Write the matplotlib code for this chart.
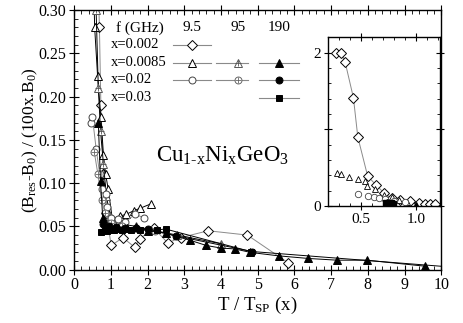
import matplotlib
matplotlib.use('Agg')
import matplotlib.pyplot as plt
from matplotlib.ticker import MultipleLocator, FormatStrFormatter

plt.rcParams['font.family'] = ['Liberation Serif', 'DejaVu Serif']
plt.rcParams['mathtext.fontset'] = 'custom'
plt.rcParams['mathtext.rm'] = 'Liberation Serif'
plt.rcParams['mathtext.it'] = 'Liberation Serif:italic'
plt.rcParams['font.size'] = 10

# ---- main panel data: T/Tsp vs (Bres-B0)/(100x.B0) ----
# x = 0.002, 9.5 GHz (open diamonds)
t_002 = [0.58, 0.69, 0.73, 0.80, 0.88, 1.01, 1.33, 1.65, 1.80, 2.17, 2.55, 2.90, 3.65, 4.72, 5.83]
b_002 = [0.45, 0.28, 0.19, 0.11, 0.065, 0.028, 0.037, 0.026, 0.036, 0.048, 0.031, 0.037, 0.045, 0.040, 0.008]
# x = 0.0085, 9.5 GHz (open triangles)
t_0085a = [0.52, 0.56, 0.64, 0.73, 0.80, 0.86, 0.93, 1.04, 1.25, 1.42, 1.62, 1.80, 2.09]
b_0085a = [0.36, 0.28, 0.224, 0.176, 0.133, 0.11, 0.093, 0.059, 0.062, 0.064, 0.068, 0.071, 0.076]
# x = 0.0085, 95 GHz (crossed triangles)
t_0085b = [0.60, 0.66, 0.72, 0.80, 0.88, 0.98, 1.15, 1.40, 1.70, 2.10, 2.80, 4.00]
b_0085b = [0.30, 0.21, 0.16, 0.122, 0.085, 0.062, 0.055, 0.052, 0.050, 0.046, 0.040, 0.030]
# x = 0.0085, 190 GHz (filled triangles)
t_0085c = [0.66, 0.72, 0.78, 0.85, 1.00, 1.20, 1.45, 1.70, 2.00, 2.50, 3.16, 3.60, 4.00, 4.38,
           4.80, 5.57, 6.38, 7.16, 7.97, 9.57]
b_0085c = [0.17, 0.102, 0.060, 0.050, 0.047, 0.048, 0.048, 0.049, 0.045, 0.042, 0.034, 0.028, 0.025,
           0.024, 0.020, 0.016, 0.013, 0.011, 0.011, 0.004]
# x = 0.02, 9.5 GHz (open circles)
t_02a = [0.45, 0.50, 0.60, 0.70, 0.77, 0.86, 0.90, 1.00, 1.20, 1.40, 1.65, 1.91]
b_02a = [0.17, 0.176, 0.14, 0.11, 0.093, 0.087, 0.072, 0.060, 0.058, 0.055, 0.064, 0.060]
# x = 0.02, 95 GHz (crossed circles)
t_02b = [0.55, 0.65, 0.75, 0.85, 1.00, 1.30, 1.70, 2.20]
b_02b = [0.136, 0.11, 0.08, 0.065, 0.054, 0.050, 0.048, 0.045]
# x = 0.02, 190 GHz (filled circles)
t_02c = [0.78, 0.95, 1.15, 1.40, 1.70, 2.00, 2.78, 4.85, 10.6]
b_02c = [0.053, 0.050, 0.049, 0.048, 0.048, 0.047, 0.039, 0.021, 0.002]
# x = 0.03, 190 GHz (filled squares)
t_03 = [0.72, 0.90, 1.10, 1.30, 1.55, 1.80, 2.26, 2.49, 4.81]
b_03 = [0.044, 0.045, 0.046, 0.046, 0.046, 0.046, 0.046, 0.047, 0.021]

# ---- inset data ----
ti_002 = [0.27, 0.32, 0.355, 0.43, 0.47, 0.56, 0.64, 0.71, 0.78, 0.86, 0.95, 1.03, 1.08, 1.13, 1.18]
bi_002 = [1.99, 2.00, 1.87, 1.41, 0.90, 0.39, 0.27, 0.17, 0.10, 0.08, 0.06, 0.04, 0.03, 0.03, 0.03]
ti_0085 = [0.28, 0.32, 0.39, 0.47, 0.54, 0.55, 0.63, 0.71, 0.78, 0.85, 0.92]
bi_0085 = [0.43, 0.42, 0.38, 0.35, 0.33, 0.26, 0.22, 0.15, 0.12, 0.08, 0.05]
ti_02 = [0.47, 0.56, 0.62, 0.66, 0.72, 0.80, 0.90]
bi_02 = [0.16, 0.13, 0.12, 0.11, 0.09, 0.07, 0.05]
ti_03 = [0.73, 0.75, 0.77, 0.79]
bi_03 = [0.04, 0.03, 0.04, 0.03]
ti_0085c = [0.74, 0.78, 1.00]
bi_0085c = [0.05, 0.04, 0.02]

legend_rows = ['x=0.002', 'x=0.0085', 'x=0.02', 'x=0.03']
freqs = ['9.5', '95', '190']

GRAY = '#8a8a8a'
# style per series
styles = {
    'd_95':   dict(marker='D', ms=4.6, mfc='white', mec='black', color=GRAY),
    't_95':   dict(marker='^', ms=5.5, mfc='white', mec='black', color='black'),
    't_950':  dict(marker='^', ms=5.5, mfc='white', mec='#555555', color='black'),
    't_190':  dict(marker='^', ms=5.5, mfc='black', mec='black', color='black'),
    'o_95':   dict(marker='o', ms=5.0, mfc='white', mec='#444444', color=GRAY),
    'o_950':  dict(marker='o', ms=5.0, mfc='white', mec='#666666', color=GRAY),
    'o_190':  dict(marker='o', ms=5.0, mfc='black', mec='black', color='black'),
    's_190':  dict(marker='s', ms=4.6, mfc='black', mec='black', color='black'),
}
crossed = {'t_950', 'o_950'}


def draw(ax, t, b, key, **kw):
    st = styles[key]
    ax.plot(t, b, lw=0.7, mew=0.7, **st, **kw)
    if key in crossed:
        ax.plot(t, b, ls='none', marker='+', ms=st['ms'] * 0.9, mew=0.6, color=st['mec'], **kw)


fig = plt.figure(figsize=(4.63, 3.23), dpi=100)
ax = fig.add_axes([0.160, 0.165, 0.793, 0.804])

draw(ax, t_002, b_002, 'd_95')
draw(ax, t_0085a, b_0085a, 't_95')
draw(ax, t_0085b, b_0085b, 't_950')
draw(ax, t_02a, b_02a, 'o_95')
draw(ax, t_02b, b_02b, 'o_950')
draw(ax, t_03, b_03, 's_190')
draw(ax, t_02c, b_02c, 'o_190')
draw(ax, t_0085c, b_0085c, 't_190')

ax.set_xlim(0, 10)
ax.set_ylim(0, 0.30)
ax.xaxis.set_major_locator(MultipleLocator(1))
ax.xaxis.set_minor_locator(MultipleLocator(0.2))
ax.yaxis.set_major_locator(MultipleLocator(0.05))
ax.yaxis.set_minor_locator(MultipleLocator(0.01))
ax.yaxis.set_major_formatter(FormatStrFormatter('%.2f'))
ax.tick_params(which='major', direction='inout', length=7, width=0.8, top=True, right=False,
               labelsize=11.5, pad=2)
ax.tick_params(which='minor', direction='in', length=3, width=0.6, top=True, right=False)
for sp in ax.spines.values():
    sp.set_linewidth(1.0)

ax.set_xlabel(r'T / T$_{\rm SP}$ (x)', fontsize=13.5, labelpad=1)
ax.set_ylabel(r'(B$_{\rm res}$-B$_0$) / (100x.B$_0$)', fontsize=12.5, labelpad=-1)

ax.text(0.222, 0.414, r'Cu$_{\rm 1\text{-}x}$Ni$_{\rm x}$GeO$_3$', transform=ax.transAxes, fontsize=16.5)

# legend as a little table
row_y = [0.866, 0.797, 0.732, 0.663]
col_x = [0.322, 0.446, 0.559]
seg = [(0.270, 0.374), (0.386, 0.475), (0.504, 0.612)]
ax.text(0.113, 0.931, 'f (GHz)', transform=ax.transAxes, va='center', fontsize=11)
for cx, f in zip(col_x, freqs):
    ax.text(cx, 0.931, f, transform=ax.transAxes, ha='center', va='center', fontsize=11)
for ry, lab in zip(row_y, legend_rows):
    ax.text(0.101, ry, lab, transform=ax.transAxes, va='center', fontsize=10.5)
legend_keys = [['d_95', None, None],
               ['t_95', 't_950', 't_190'],
               ['o_95', 'o_950', 'o_190'],
               [None, None, 's_190']]
for ri, row in enumerate(legend_keys):
    for ci, key in enumerate(row):
        if key is None:
            continue
        st = styles[key]
        ax.plot(seg[ci], [row_y[ri]] * 2, transform=ax.transAxes, color=GRAY, lw=0.8, clip_on=False)
        ax.plot([col_x[ci]], [row_y[ri]], transform=ax.transAxes, ls='none', marker=st['marker'],
                ms=st['ms'], mfc=st['mfc'], mec=st['mec'], mew=0.7, clip_on=False)
        if key in crossed:
            ax.plot([col_x[ci]], [row_y[ri]], transform=ax.transAxes, ls='none', marker='+',
                    ms=st['ms'] * 0.9, mew=0.6, color=st['mec'], clip_on=False)

# inset
axi = fig.add_axes([0.709, 0.362, 0.241, 0.523])
draw(axi, ti_002, bi_002, 'd_95')
axi.plot(ti_0085, bi_0085, ls='none', marker='^', ms=5.0, mfc='white', mec='black', mew=0.6)
axi.plot(ti_02, bi_02, ls='none', marker='o', ms=4.6, mfc='white', mec='#444444', mew=0.6)
axi.plot(ti_03, bi_03, ls='none', marker='s', ms=4.6, color='black')
axi.plot(ti_0085c, bi_0085c, ls='none', marker='^', ms=5.0, color='black')
axi.set_xlim(0.2, 1.22)
axi.set_ylim(0, 2.2)
axi.xaxis.set_major_locator(MultipleLocator(0.5))
axi.xaxis.set_minor_locator(MultipleLocator(0.1))
axi.yaxis.set_minor_locator(MultipleLocator(0.2))
axi.set_yticks([0, 1, 2])
axi.set_yticklabels(['0', '', '2'])
axi.xaxis.set_major_formatter(FormatStrFormatter('%.1f'))
axi.tick_params(which='major', direction='inout', length=6, width=0.8, top=True, right=True,
                labelsize=11, pad=2)
axi.tick_params(which='minor', direction='in', length=2.5, width=0.6, top=True, right=True)
for sp in axi.spines.values():
    sp.set_linewidth(1.0)

fig.savefig('out.png', dpi=100)
